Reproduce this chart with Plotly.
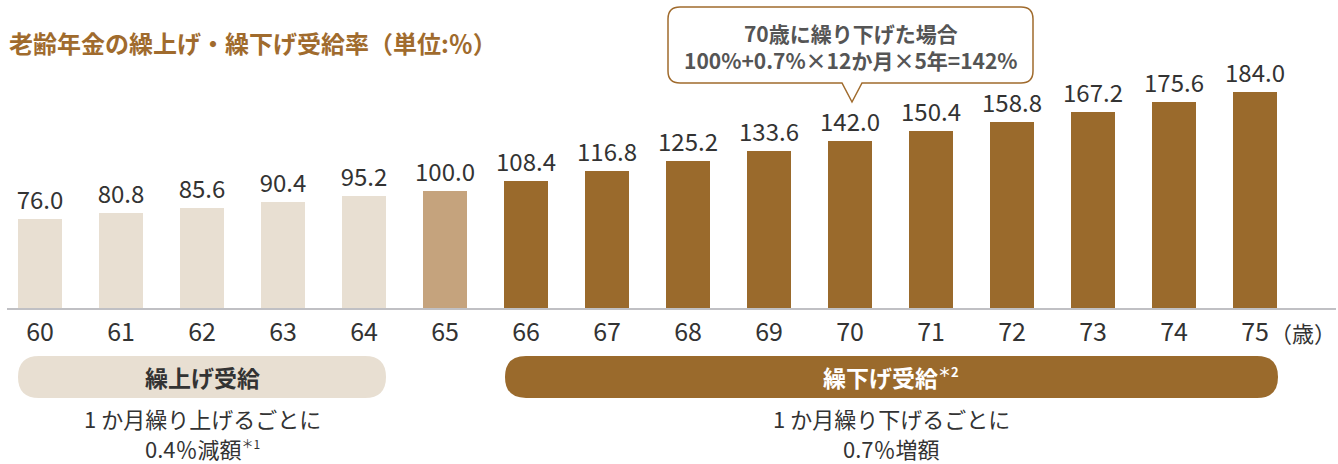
import plotly.graph_objects as go

ages = list(range(60, 76))
age_labels = [str(a) for a in ages]
rates = [76.0, 80.8, 85.6, 90.4, 95.2, 100.0, 108.4, 116.8, 125.2, 133.6,
         142.0, 150.4, 158.8, 167.2, 175.6, 184.0]
groups = ["early"] * 5 + ["base"] + ["late"] * 10

title_text = "老齢年金の繰上げ・繰下げ受給率（単位:％）"
callout_lines = ["70歳に繰り下げた場合", "100%+0.7%×12か月×5年=142%"]
early_label = "繰上げ受給"
late_label = "繰下げ受給<sup><span style='font-size:13px'>＊2</span></sup>"
early_note = ["1 か月繰り上げるごとに",
              "0.4％減額<sup><span style='font-size:12px'>＊1</span></sup>"]
late_note = ["1 か月繰り下げるごとに", "0.7％増額"]
unit_label = "（歳）"

COL = {"early": "#E8DFD2", "base": "#C5A37D", "late": "#9A6A2C"}
TITLE_COL = "#A06B2D"
TEXT_COL = "#333333"
FONT = "Noto Sans CJK JP"

W, H = 1338, 464
ML, MR, MT, MB = 7, 2, 60, 156
PW, PH = W - ML - MR, H - MT - MB
BASE_PY = H - MB


def px(x):
    return (x - ML) / PW


def py(y):
    return (BASE_PY - y) / PH


fig = go.Figure()
fig.add_trace(go.Bar(
    x=ages, y=rates, width=0.543,
    marker=dict(color=[COL[g] for g in groups], line=dict(width=0)),
    texttemplate="%{y:.1f}", textposition="outside", constraintext="none",
    textfont=dict(size=24, color=TEXT_COL, family=FONT),
    cliponaxis=False, hoverinfo="skip",
))


def pill(x0, x1, y0, y1, color):
    r = (y1 - y0) / 2
    pts = [
        f"M{px(x0 + r)},{py(y0)}",
        f"L{px(x1 - r)},{py(y0)}",
        f"Q{px(x1)},{py(y0)} {px(x1)},{py(y0 + r)}",
        f"Q{px(x1)},{py(y1)} {px(x1 - r)},{py(y1)}",
        f"L{px(x0 + r)},{py(y1)}",
        f"Q{px(x0)},{py(y1)} {px(x0)},{py(y0 + r)}",
        f"Q{px(x0)},{py(y0)} {px(x0 + r)},{py(y0)}",
        "Z",
    ]
    fig.add_shape(type="path", xref="paper", yref="paper", path=" ".join(pts),
                  fillcolor=color, line=dict(width=0), layer="below")


pill(18, 386, 356, 398, COL["early"])
pill(505, 1278, 356, 398, COL["late"])

bx0, bx1, by0, by1, rr = 668, 1033, 7, 83, 12
tx0, tx1, tipx, tipy = 842, 862, 852, 102
cp = [
    f"M{px(bx0 + rr)},{py(by0)}",
    f"L{px(bx1 - rr)},{py(by0)}",
    f"Q{px(bx1)},{py(by0)} {px(bx1)},{py(by0 + rr)}",
    f"L{px(bx1)},{py(by1 - rr)}",
    f"Q{px(bx1)},{py(by1)} {px(bx1 - rr)},{py(by1)}",
    f"L{px(tx1)},{py(by1)}",
    f"L{px(tipx)},{py(tipy)}",
    f"L{px(tx0)},{py(by1)}",
    f"L{px(bx0 + rr)},{py(by1)}",
    f"Q{px(bx0)},{py(by1)} {px(bx0)},{py(by1 - rr)}",
    f"L{px(bx0)},{py(by0 + rr)}",
    f"Q{px(bx0)},{py(by0)} {px(bx0 + rr)},{py(by0)}",
    "Z",
]
fig.add_shape(type="path", xref="paper", yref="paper", path=" ".join(cp),
              fillcolor="white", line=dict(color=TITLE_COL, width=1.5))


def txt(x, y, s, size=21, color=TEXT_COL, bold=False, xanchor="center"):
    if bold:
        s = f"<b>{s}</b>"
    fig.add_annotation(x=px(x), y=py(y), xref="paper", yref="paper", text=s,
                       showarrow=False, xanchor=xanchor, yanchor="middle",
                       borderpad=0,
                       font=dict(size=size, color=color, family=FONT))


txt(8, 42, title_text, size=24, color=TITLE_COL, bold=True, xanchor="left")
txt(851, 47, "<br>".join(callout_lines), size=21, color="#555555", bold=True)
txt(202, 377, early_label, size=23, color=TEXT_COL, bold=True)
txt(891, 377, late_label, size=23, color="white", bold=True)
txt(202, 418, early_note[0], size=22)
txt(202, 448, early_note[1], size=22)
txt(891, 418, late_note[0], size=22)
txt(891, 448, late_note[1], size=22)
txt(1337, 332, unit_label, size=22, xanchor="right")

x0 = 60 - (40 - ML) / 81
fig.update_xaxes(range=[x0, x0 + PW / 81], tickvals=ages, ticktext=age_labels,
                 showline=True, linecolor="#C0C0C4", linewidth=2,
                 ticks="outside", ticklen=1, tickcolor="rgba(0,0,0,0)",
                 tickfont=dict(size=25, color=TEXT_COL, family=FONT),
                 showgrid=False, zeroline=False, fixedrange=True)
fig.update_yaxes(range=[0, PH / 1.174], visible=False, showgrid=False,
                 zeroline=False)
fig.update_layout(width=W, height=H, margin=dict(l=ML, r=MR, t=MT, b=MB),
                  plot_bgcolor="white", paper_bgcolor="white",
                  showlegend=False, bargap=0)
fig.write_html("out.html", config={"displayModeBar": False},
               post_script="document.body.style.margin='0';document.body.style.overflow='hidden';")
